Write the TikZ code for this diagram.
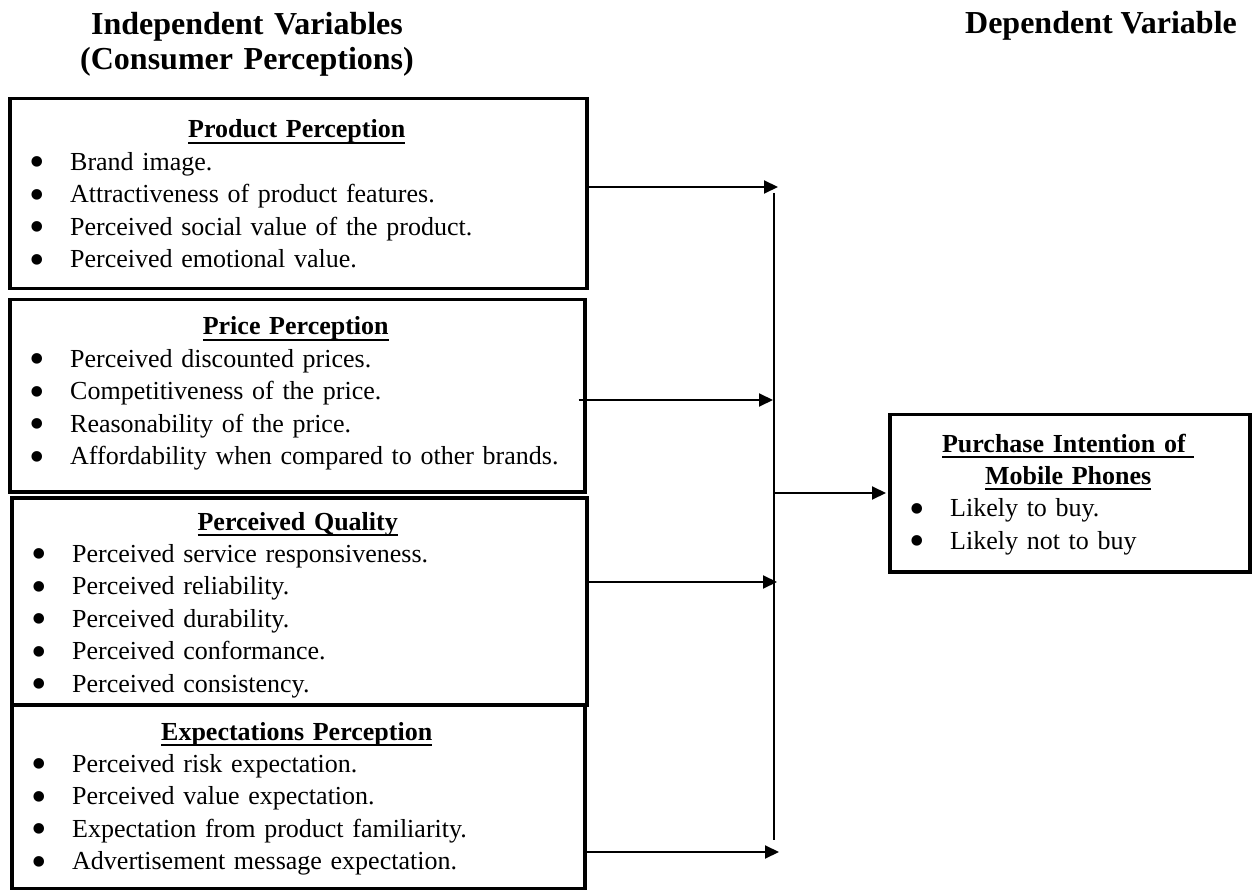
\documentclass[tikz,border=0pt]{standalone}
\usepackage{fontspec}
\usepackage{graphicx}
\setmainfont{Liberation Serif}
\usetikzlibrary{arrows.meta}
\newcommand\hdl[1]{\leavevmode\setbox0\hbox{\bfseries #1}\rlap{\rule[-6pt]{\wd0}{2pt}}\box0}
\newcommand\itm[1]{\par\noindent\hspace*{29pt}\makebox[0pt][c]{\raisebox{-6.5pt}[0pt][0pt]{\scalebox{1.7}{\textbullet}}}\hspace*{33pt}#1}
\tikzset{
  box/.style={draw, line width=3.5pt, inner sep=0pt, anchor=north west},
  txt/.style={inner sep=0pt, anchor=base west, font=\fontsize{26}{32.4}\selectfont},
  ttl/.style={inner sep=0pt, anchor=base, font=\bfseries\fontsize{32}{35}\selectfont},
  arr/.style={line width=2pt, -{Triangle[length=14pt,width=13pt]}},
  vline/.style={line width=1.5pt}
}
\begin{document}
\begin{tikzpicture}[x=1pt,y=-1pt]
\useasboundingbox (0,0) rectangle (1253,890);
% titles
\node[ttl, text width=420pt, align=center] (h1) at (247,35) {Independent Variables\\(Consumer Perceptions)};
\node[ttl] (h2) at (1101,34) {Dependent Variable};
% boxes
\node[box, minimum width=577pt, minimum height=190pt] (b1) at (8,97) {};
\node[box, minimum width=575pt, minimum height=192pt] (b2) at (8,298) {};
\node[box, minimum width=575pt, minimum height=207pt] (b3) at (10,496) {};
\node[box, minimum width=573pt, minimum height=184pt] (b4) at (10,703) {};
\node[box, minimum width=360pt, minimum height=157pt] (pi) at (888,413) {};
% contents
\node[txt, text width=577pt] (c1) at (8,138) {{\centering\hdl{Product Perception}\par}%
  \itm{Brand image.}\itm{Attractiveness of product features.}%
  \itm{Perceived social value of the product.}\itm{Perceived emotional value.}};
\node[txt, text width=575pt] (c2) at (8,335) {{\centering\hdl{Price Perception}\par}%
  \itm{Perceived discounted prices.}\itm{Competitiveness of the price.}%
  \itm{Reasonability of the price.}\itm{Affordability when compared to other brands.}};
\node[txt, text width=575pt] (c3) at (10,530) {{\centering\hdl{Perceived Quality}\par}%
  \itm{Perceived service responsiveness.}\itm{Perceived reliability.}%
  \itm{Perceived durability.}\itm{Perceived conformance.}\itm{Perceived consistency.}};
\node[txt, text width=573pt] (c4) at (10,740) {{\centering\hdl{Expectations Perception}\par}%
  \itm{Perceived risk expectation.}\itm{Perceived value expectation.}%
  \itm{Expectation from product familiarity.}\itm{Advertisement message expectation.}};
\node[txt, text width=360pt] (c5) at (888,452) {{\centering\hdl{Purchase Intention of\ }\par\hdl{Mobile Phones}\par}%
  \itm{Likely to buy.}\itm{Likely not to buy}};
% connectors
\coordinate (e1) at (778,187);
\coordinate (e2) at (773,400);
\coordinate (e3) at (777,582);
\coordinate (e4) at (779,852);
\coordinate (vt) at (774,193);
\coordinate (vb) at (774,840);
\coordinate (vm) at (774,493);
\draw[arr] (b1.east |- e1) -- (e1);
\draw[arr] ([xshift=-8pt]b2.east |- e2) -- (e2);
\draw[arr] ([xshift=-3pt]b3.east |- e3) -- (e3);
\draw[arr] (b4.east |- e4) -- (e4);
\draw[vline] (vt) -- (vb);
\draw[arr, shorten >=2pt] (vm) -- (pi.west |- vm);
\end{tikzpicture}
\end{document}
